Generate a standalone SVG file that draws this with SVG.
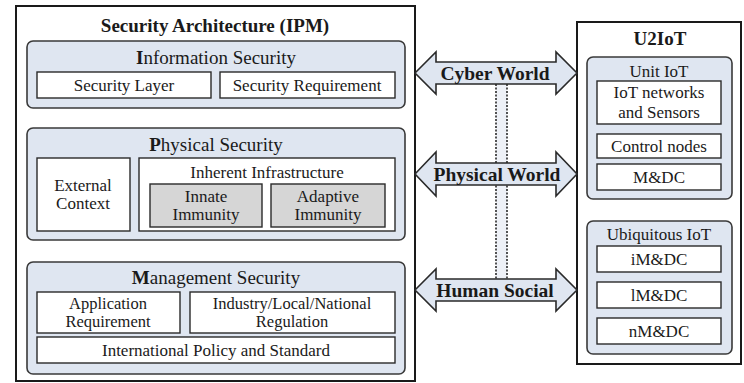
<svg xmlns="http://www.w3.org/2000/svg" width="744" height="383" viewBox="0 0 744 383">
<style>
text{font-family:"Liberation Serif","DejaVu Serif",serif;fill:#1a1a1a;text-anchor:middle;dominant-baseline:central}
.outer{fill:#fff;stroke:#1a1a1a;stroke-width:2}
.panel{fill:#dfe6f1;stroke:#3a3a3a;stroke-width:1.6}
.box{fill:#fff;stroke:#2a2a2a;stroke-width:1.4}
.gbox{fill:#d6d6d6;stroke:#2a2a2a;stroke-width:1.4}
.t1{font-size:19px;font-weight:bold}
.t2{font-size:19px}
.t3{font-size:17px}
.t5{font-size:16.5px}
.t4{font-size:17px}
.arrow{fill:#dfe6f1;stroke:#2a2a2a;stroke-width:1.6;stroke-linejoin:miter}
.al{font-size:19.5px;font-weight:bold}
.dot{stroke:#2a2a2a;stroke-width:1.6;stroke-dasharray:2 1.5}
</style>
<g id="ipm">
<rect class="outer" x="16" y="6" width="399" height="375"/>
<text class="t1" x="215" y="25">Security Architecture (IPM)</text>
</g>
<g id="info">
<rect class="panel" x="27" y="41" width="378" height="67" rx="6"/>
<text class="t2" x="216" y="57"><tspan font-weight="bold">I</tspan>nformation Security</text>
</g>
<g id="sec-layer"><rect class="box" x="37" y="72" width="174" height="26"/><text class="t3" x="124" y="85">Security Layer</text></g>
<g id="sec-req"><rect class="box" x="220" y="72" width="175" height="26"/><text class="t3" x="307" y="85">Security Requirement</text></g>
<g id="phys">
<rect class="panel" x="27" y="128" width="378" height="112" rx="6"/>
<text class="t2" x="216" y="144"><tspan font-weight="bold">P</tspan>hysical Security</text>
</g>
<g id="ext"><rect class="box" x="37" y="158" width="93" height="73"/><text class="t3" x="83" y="185">External</text><text class="t3" x="83" y="203">Context</text></g>
<g id="inherent"><rect class="box" x="139" y="158" width="256" height="73"/><text class="t3" x="267" y="172">Inherent Infrastructure</text></g>
<g id="innate"><rect class="gbox" x="150" y="184" width="112" height="43"/><text class="t3" x="206" y="196">Innate</text><text class="t3" x="206" y="214">Immunity</text></g>
<g id="adaptive"><rect class="gbox" x="271" y="184" width="114" height="43"/><text class="t3" x="328" y="196">Adaptive</text><text class="t3" x="328" y="214">Immunity</text></g>
<g id="mgmt">
<rect class="panel" x="27" y="262" width="378" height="112" rx="6"/>
<text class="t2" x="216" y="277"><tspan font-weight="bold">M</tspan>anagement Security</text>
</g>
<g id="app"><rect class="box" x="37" y="292" width="143" height="41"/><text class="t5" x="108" y="303">Application</text><text class="t5" x="108" y="321">Requirement</text></g>
<g id="reg"><rect class="box" x="190" y="292" width="205" height="41"/><text class="t5" x="292" y="303">Industry/Local/National</text><text class="t5" x="292" y="321">Regulation</text></g>
<g id="intl"><rect class="box" x="37" y="337" width="358" height="26"/><text class="t3" x="216" y="350">International Policy and Standard</text></g>

<g id="u2iot">
<rect class="outer" x="577" y="22" width="164" height="342"/>
<text class="t1" x="660" y="38">U2IoT</text>
</g>
<g id="unit">
<rect class="panel" x="587" y="57" width="145" height="142" rx="6"/>
<text class="t4" x="659" y="71">Unit IoT</text>
</g>
<g id="iotnet"><rect class="box" x="597" y="81" width="124" height="43"/><text class="t4" x="659" y="92">IoT networks</text><text class="t4" x="659" y="112">and Sensors</text></g>
<g id="ctrl"><rect class="box" x="597" y="134" width="124" height="24"/><text class="t4" x="659" y="146">Control nodes</text></g>
<g id="mdc"><rect class="box" x="597" y="164" width="124" height="26"/><text class="t4" x="659" y="177">M&amp;DC</text></g>
<g id="ubi">
<rect class="panel" x="587" y="221" width="145" height="133" rx="6"/>
<text class="t4" x="659" y="234">Ubiquitous IoT</text>
</g>
<g id="imdc"><rect class="box" x="597" y="246" width="124" height="26"/><text class="t4" x="659" y="259">iM&amp;DC</text></g>
<g id="lmdc"><rect class="box" x="597" y="282" width="124" height="26"/><text class="t4" x="659" y="295">lM&amp;DC</text></g>
<g id="nmdc"><rect class="box" x="597" y="318" width="124" height="26"/><text class="t4" x="659" y="331">nM&amp;DC</text></g>

<g id="connectors">
<rect x="496" y="84" width="11" height="196" fill="#eef1f7"/>
<line class="dot" x1="496" y1="84" x2="496" y2="280"/>
<line class="dot" x1="507" y1="84" x2="507" y2="280"/>
<path class="arrow" d="M415,73 L436,52 L436,62 L556,62 L556,52 L577,73 L556,94 L556,84 L436,84 L436,94 Z"/>
<text class="al" x="495" y="73">Cyber World</text>
<path class="arrow" d="M415,174 L436,152 L436,163 L556,163 L556,152 L577,174 L556,196 L556,185 L436,185 L436,196 Z"/>
<text class="al" x="497" y="174">Physical World</text>
<path class="arrow" d="M415,290 L436,269 L436,279 L556,279 L556,269 L577,290 L556,311 L556,301 L436,301 L436,311 Z"/>
<text class="al" x="495" y="290">Human Social</text>
</g>
</svg>
